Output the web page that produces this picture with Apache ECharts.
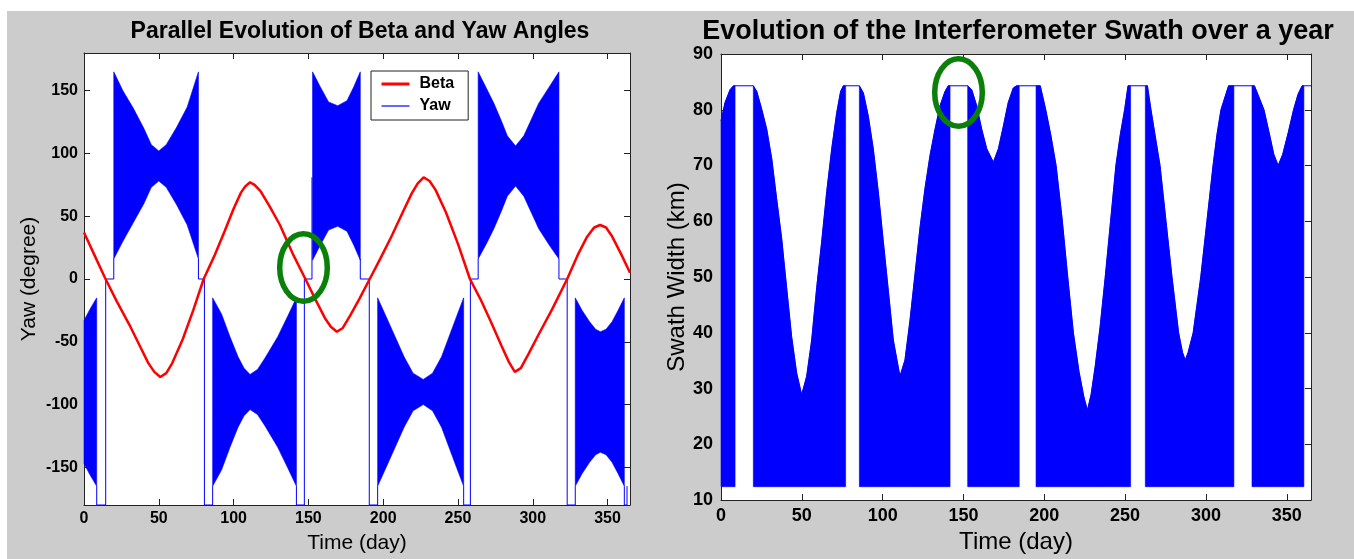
<!DOCTYPE html>
<html>
<head>
<meta charset="utf-8">
<script src="https://cdn.jsdelivr.net/npm/echarts@6/dist/echarts.min.js"></script>
<style>
  html, body { margin: 0; padding: 0; background: #fff; }
  #backdrop { position: absolute; left: 7px; top: 11px; width: 1347px; height: 548px; background: #cccccc; }
  #chart { position: absolute; left: 0; top: 0; width: 1354px; height: 559px; }
</style>
</head>
<body>
<div id="backdrop"></div>
<div id="chart"></div>
<script>
// ticks
const dayTicks = [0, 50, 100, 150, 200, 250, 300, 350];
const yawTicks = [-150, -100, -50, 0, 50, 100, 150];
const swathTicks = [10, 20, 30, 40, 50, 60, 70, 80, 90];

// beta angle (degree)
const betaDays = [0, 7, 14, 22, 31, 38, 43, 47, 51, 55, 59, 66, 73, 80, 87, 94, 100, 105, 108, 111, 114, 118, 124, 131, 140, 148, 155, 161, 165, 169, 173, 178, 184, 191, 198, 206, 213, 219, 223, 227, 231, 235, 242, 250, 258, 265, 272, 279, 284, 288, 292, 297, 304, 313, 323, 330, 336, 341, 345, 349, 353, 359, 365];
const betaValues = [37, 19, 1, -18, -38, -55, -67, -74, -78, -75, -67, -48, -25, 0, 18, 38, 56, 69, 74, 77, 75, 70, 58, 43, 19, 0, -17, -31, -38, -42, -39, -29, -16, 0, 16, 35, 53, 68, 76, 81, 78, 71, 53, 28, 0, -16, -34, -53, -66, -74, -71, -60, -44, -24, 0, 19, 33, 41, 43, 41, 34, 20, 5];

// yaw envelope of the dense oscillation: [day, low, high]
const yawBandA = [[0, -147, -33], [4, -156, -24], [8.5, -165, -15]];
const yawBandB = [[19.9, 16, 165], [26, 30, 150], [33, 45, 136], [40, 60, 120], [45, 73, 107], [50, 78, 102], [55, 73, 107], [62, 59, 121], [69, 43, 137], [76.5, 16, 165]];
const yawBandC = [[86, -165, -15], [92, -152, -28], [97.6, -134, -46], [103, -118, -62], [107, -109, -71], [111, -104, -76], [116, -108, -72], [121, -117, -63], [129.5, -134, -46], [136, -150, -30], [142, -165, -15]];
const yawBandD = [[152.8, 15, 165], [158, 27, 153], [163.5, 39, 141], [169.6, 42, 138], [175.8, 38, 142], [180.3, 27, 153], [184.7, 15, 165]];
const yawBandE = [[196.3, -165, -15], [202, -150, -30], [208, -134, -46], [214, -118, -62], [220, -105, -75], [226.8, -100, -80], [233, -105, -75], [239, -118, -62], [244, -134, -46], [249, -150, -30], [253.8, -165, -15]];
const yawBandF = [[263.5, 16, 165], [269, 28, 152], [274, 40, 140], [279, 54, 126], [283, 66, 114], [288.5, 74, 106], [294, 66, 114], [299, 53, 127], [304, 40, 140], [311, 27, 153], [317.5, 16, 165]];
const yawBandG = [[328.4, -165, -15], [333, -155, -25], [338, -146, -34], [342, -140, -40], [345.2, -138, -42], [349, -140, -40], [353, -146, -34], [357, -155, -25], [361.2, -165, -15]];

// yaw thin line where it leaves the bands (null = gap)
const yawLine = [
  [8.5, -165], [8.5, -180], [14.5, -180], [14.5, 0], [19.9, 0], [19.9, 16], [19.9, null],
  [76.5, 16], [76.5, 0], [80.5, 0], [80.5, -180], [86, -180], [86, -165], [86, null],
  [142, -165], [142, -180], [147.3, -180], [147.3, 0], [152.4, 0], [152.4, 81], [152.4, null],
  [184.7, 16], [184.7, 0], [190.7, 0], [190.7, -180], [196.3, -180], [196.3, -165], [196.3, null],
  [253.8, -165], [253.8, -180], [258.3, -180], [258.3, 0], [263.5, 0], [263.5, 16], [263.5, null],
  [317.5, 16], [317.5, 0], [323, 0], [323, -180], [328.4, -180], [328.4, -165], [328.4, null],
  [361.2, -165], [361.2, -180], [363, -180], [363, -165]
];

// swath width (km): upper envelope per band, floor of the oscillation
const swathFloor = 12.4;
const swathBandA = [[0, 78], [2.5, 81.3], [5.6, 83.6], [7.7, 84.3], [8.7, 84.3]];
const swathBandB = [[20, 84.3], [22.1, 83.3], [25.2, 80.1], [28.3, 76.5], [31.4, 71.2], [34.4, 64.1], [37.5, 57], [40.6, 48.1], [43.7, 39.3], [46.8, 32.8], [49.9, 28.9], [53, 32.2], [56.1, 38.7], [59.2, 48.1], [62.3, 56.4], [65.4, 65.3], [68.5, 73], [71.6, 79.5], [74, 83.3], [75.7, 84.3], [77.1, 84.3]];
const swathBandC = [[85.6, 84.3], [88.1, 83], [91.1, 78.9], [94.2, 73], [97.3, 65.3], [100.4, 56.4], [103.5, 47.6], [106.6, 38.7], [110.7, 32.2], [113.8, 35.1], [116.9, 42.2], [120, 50.5], [123.1, 58.8], [126.2, 65.9], [129.3, 71.8], [132.4, 76.5], [135.5, 80.7], [138.6, 83.3], [140.6, 84.3], [141.7, 84.3]];
const swathBandD = [[152.6, 84.3], [155.1, 83.6], [158.2, 80.7], [161.3, 76.5], [164.4, 73], [168.5, 70.6], [171.6, 73], [174.7, 77.1], [177.7, 81.3], [180.8, 83.9], [182.9, 84.3], [184.5, 84.3]];
const swathBandE = [[194.9, 84.3], [197.5, 84.3], [200.9, 80], [204, 75.5], [207.3, 70], [211, 60.5], [214.5, 50], [218, 40], [221.5, 33], [224.5, 28.5], [226.7, 26.1], [229, 29], [231.5, 34], [234.5, 41], [237.7, 50], [241, 60], [244.3, 70], [247, 75.5], [249.7, 80], [251.8, 84.3], [253.4, 84.3]];
const swathBandF = [[262.5, 84.3], [263.8, 84.3], [266, 80], [268.5, 75.5], [271.6, 70], [275.3, 60], [279, 50], [283.1, 40], [285.5, 36.5], [287.2, 35.1], [289, 36.5], [292.1, 40], [296.8, 50], [300.6, 60], [304.4, 70], [306.8, 75.5], [309.3, 80], [314, 84.3], [317.3, 84.3]];
const swathBandG = [[328.5, 84.3], [330, 84.3], [332.5, 82.5], [335.9, 80], [339, 76], [342, 72], [344.7, 70], [347.5, 72], [351, 76], [354.2, 80], [357, 82.8], [359.5, 84.3], [360.6, 84.3]];
const swathTail = [[365, 84.3]];

const FONT = "'Liberation Sans', Arial, Helvetica, sans-serif";
const BLUE = "#0000ff";

const yawBands = [yawBandA, yawBandB, yawBandC, yawBandD, yawBandE, yawBandF, yawBandG];
const swathBands = [swathBandA, swathBandB, swathBandC, swathBandD, swathBandE, swathBandF, swathBandG];
const swathTop = [].concat(...swathBands, swathTail);

// filled polygon between low and high edge of a band
const bandPolygon = (band, api, low, high) => {
  const top = band.map((p) => api.coord([p[0], high(p)]));
  const bottom = band.slice().reverse().map((p) => api.coord([p[0], low(p)]));
  return {
    type: "polygon",
    shape: { points: top.concat(bottom) },
    style: { fill: BLUE, stroke: BLUE, lineWidth: 0.6 },
  };
};

const frameAxis = (gridIndex, position, extra) => Object.assign({
  type: "value",
  gridIndex: gridIndex,
  position: position,
  axisLine: { show: true, onZero: false, lineStyle: { color: "#222", width: 1 } },
  axisTick: { show: true, inside: true, length: 6, lineStyle: { color: "#222" } },
  axisLabel: { show: false },
  splitLine: { show: false },
}, extra);

const tickLabel = (size, margin, values) => ({
  show: true,
  customValues: values,
  fontFamily: FONT,
  fontSize: size,
  fontWeight: "bold",
  color: "#000",
  margin: margin,
});

const tickMarks = (values) => ({
  show: true, inside: true, length: 6, customValues: values, lineStyle: { color: "#222" },
});

const axisName = (size) => ({ fontFamily: FONT, fontSize: size, color: "#000" });

const option = {
  animation: false,
  title: [
    {
      text: "Parallel Evolution of Beta and Yaw Angles",
      left: 355, top: 15, textAlign: "center",
      textStyle: { fontFamily: FONT, fontSize: 23, fontWeight: "bold", color: "#000" },
    },
    {
      text: "Evolution of the Interferometer Swath over a year",
      left: 1013, top: 13, textAlign: "center",
      textStyle: { fontFamily: FONT, fontSize: 27, fontWeight: "bold", color: "#000" },
    },
  ],
  legend: {
    data: [
      { name: "Beta", itemStyle: { opacity: 0 }, lineStyle: { width: 3 } },
      { name: "Yaw", itemStyle: { opacity: 0 }, lineStyle: { width: 1.2 } },
    ],
    orient: "vertical",
    left: 371, top: 71,
    padding: [5, 14, 6, 9],
    itemGap: 6, itemWidth: 28, itemHeight: 14,
    backgroundColor: "#fff", borderColor: "#222", borderWidth: 1,
    textStyle: { fontFamily: FONT, fontSize: 16, fontWeight: "bold", color: "#000", lineHeight: 16, padding: [0, 0, 0, 5] },
  },
  grid: [
    { left: 84, top: 53, width: 546, height: 452, show: true, backgroundColor: "#fff", borderWidth: 0 },
    { left: 721, top: 54, width: 590, height: 451, show: true, backgroundColor: "#fff", borderWidth: 0 },
  ],
  xAxis: [
    frameAxis(0, "bottom", {
      min: 0, max: 365,
      axisTick: tickMarks(dayTicks), axisLabel: tickLabel(16, 6, dayTicks),
      name: "Time (day)", nameLocation: "middle", nameGap: 28, nameTextStyle: axisName(21),
    }),
    frameAxis(0, "top", { min: 0, max: 365, axisTick: tickMarks(dayTicks) }),
    frameAxis(1, "bottom", {
      min: 0, max: 365,
      axisTick: tickMarks(dayTicks), axisLabel: tickLabel(18, 7, dayTicks),
      name: "Time (day)", nameLocation: "middle", nameGap: 26, nameTextStyle: axisName(24),
    }),
    frameAxis(1, "top", { min: 0, max: 365, axisTick: tickMarks(dayTicks) }),
  ],
  yAxis: [
    frameAxis(0, "left", {
      min: -180, max: 180,
      axisTick: tickMarks(yawTicks), axisLabel: tickLabel(16, 6, yawTicks),
      name: "Yaw (degree)", nameLocation: "middle", nameGap: 44, nameTextStyle: axisName(21),
    }),
    frameAxis(0, "right", { min: -180, max: 180, axisTick: tickMarks(yawTicks) }),
    frameAxis(1, "left", {
      min: 10, max: 90,
      axisTick: tickMarks(swathTicks), axisLabel: tickLabel(18, 8, swathTicks),
      name: "Swath Width (km)", nameLocation: "middle", nameGap: 32, nameTextStyle: axisName(24),
    }),
    frameAxis(1, "right", { min: 10, max: 90, axisTick: tickMarks(swathTicks) }),
  ],
  series: [
    {
      name: "yaw band",
      type: "custom",
      xAxisIndex: 0, yAxisIndex: 0,
      data: yawBands.map((b, i) => [b[0][0], b[0][1], i]),
      renderItem: (params, api) => bandPolygon(yawBands[api.value(2)], api, (p) => p[1], (p) => p[2]),
      z: 2,
    },
    {
      name: "Yaw",
      type: "line",
      xAxisIndex: 0, yAxisIndex: 0,
      data: yawLine,
      symbol: "none",
      connectNulls: false,
      color: BLUE,
      lineStyle: { color: BLUE, width: 1 },
      z: 3,
    },
    {
      name: "Beta",
      type: "line",
      xAxisIndex: 0, yAxisIndex: 0,
      data: betaDays.map((d, i) => [d, betaValues[i]]),
      symbol: "none",
      color: "#ff0000",
      lineStyle: { color: "#ff0000", width: 2.5 },
      z: 4,
    },
    {
      name: "swath band",
      type: "custom",
      xAxisIndex: 2, yAxisIndex: 2,
      data: swathBands.map((b, i) => [b[0][0], b[0][1], i]),
      renderItem: (params, api) => bandPolygon(swathBands[api.value(2)], api, () => swathFloor, (p) => p[1]),
      z: 2,
    },
    {
      name: "swath top",
      type: "line",
      xAxisIndex: 2, yAxisIndex: 2,
      data: swathTop,
      symbol: "none",
      color: BLUE,
      lineStyle: { color: BLUE, width: 1 },
      z: 3,
    },
  ],
  graphic: [
    { type: "ellipse", shape: { cx: 303.5, cy: 267.5, rx: 23.8, ry: 33.8 }, style: { fill: "none", stroke: "#0a800a", lineWidth: 5.5 }, z: 100 },
    { type: "ellipse", shape: { cx: 958.5, cy: 92.5, rx: 23.8, ry: 33.8 }, style: { fill: "none", stroke: "#0a800a", lineWidth: 5.5 }, z: 100 },
  ],
};

const myChart = echarts.init(document.getElementById("chart"));
myChart.setOption(option);
</script>
</body>
</html>
